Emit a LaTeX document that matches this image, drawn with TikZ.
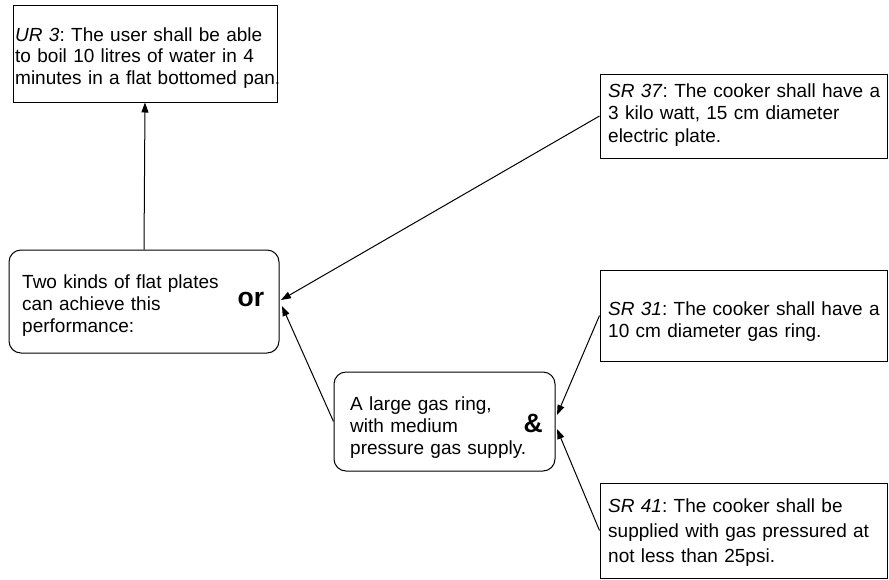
\documentclass[tikz,border=0pt]{standalone}
\usepackage{fontspec}
\setmainfont{Liberation Sans}
\usetikzlibrary{arrows.meta}
\frenchspacing
\begin{document}
\begin{tikzpicture}[x=1pt,y=-1pt,
  box/.style={draw, line width=1pt, inner sep=0pt, minimum width=#1},
  sqbox/.style={box=#1},
  rbox/.style={box=#1, rounded corners=12pt},
  txt/.style={anchor=base west, inner sep=0pt, align=left, text width=400pt},
  conn/.style={line width=1pt, -{Triangle[length=10pt,width=7pt]}},
  big/.style={anchor=base west, inner sep=0pt, font=\fontsize{26.5}{30}\selectfont\bfseries}]
\useasboundingbox (0,0) rectangle (889,579);
% boxes
\node[sqbox=264pt, minimum height=97pt] (ur) at (145,53.5) {};
\node[rbox=270pt, minimum height=103pt] (orbox) at (144,301.5) {};
\node[rbox=221pt, minimum height=99pt] (amp) at (444.5,421.5) {};
\node[sqbox=287pt, minimum height=84pt] (sr37) at (743.5,116) {};
\node[sqbox=287pt, minimum height=91pt] (sr31) at (743.5,315.5) {};
\node[sqbox=287pt, minimum height=95pt] (sr41) at (743.5,530.5) {};
% texts
\node[txt, font=\fontsize{19}{21.5}\selectfont] (urt) at (15,41)
  {\textit{UR 3}: The user shall be able\\to boil 10 litres of water in 4\\minutes in a flat bottomed pan.};
\node[txt, font=\fontsize{19}{22}\selectfont] (ort) at (22,288)
  {Two kinds of flat plates\\can achieve this\\performance:};
\node[big] (orw) at (237.5,306) {or};
\node[txt, font=\fontsize{19}{22}\selectfont] (ampt) at (350,410)
  {A large gas ring,\\with medium\\pressure gas supply.};
\node[big] (ampw) at (523.5,432) {\&};
\node[txt, font=\fontsize{19}{22.5}\selectfont] (sr37t) at (608,97)
  {\textit{SR 37}: The cooker shall have a\\3 kilo watt, 15 cm diameter\\electric plate.};
\node[txt, font=\fontsize{19}{22}\selectfont] (sr31t) at (608,315)
  {\textit{SR 31}: The cooker shall have a\\10 cm diameter gas ring.};
\node[txt, font=\fontsize{19}{25}\selectfont] (sr41t) at (608,512)
  {\textit{SR 41}: The cooker shall be\\supplied with gas pressured at\\not less than 25psi.};
% connector end points
\coordinate (orA) at (281,300);
\coordinate (orB) at (282,306);
\coordinate (ampA) at (557,415);
\coordinate (ampB) at (557,429);
% connectors
\draw[conn] (orbox.north) -- (ur.south);
\draw[conn] (sr37.west) -- (orA);
\draw[conn] (amp.west) -- (orB);
\draw[conn] (sr31.west) -- (ampA);
\draw[conn] (sr41.west) -- (ampB);
\end{tikzpicture}
\end{document}
